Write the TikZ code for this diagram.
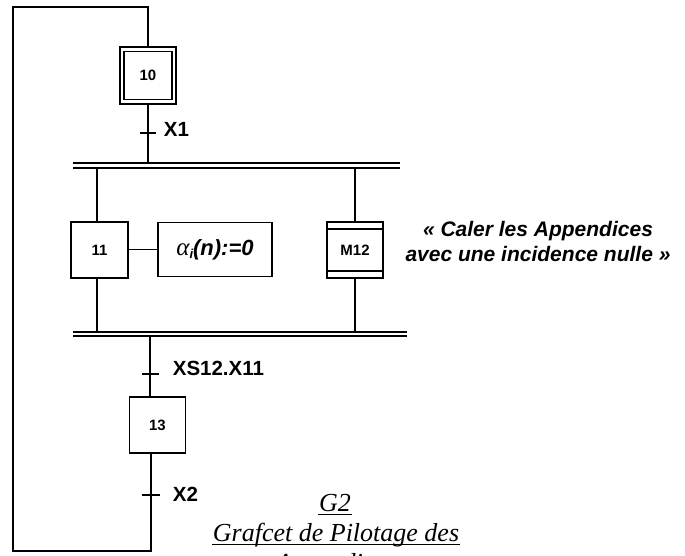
\documentclass[tikz,border=0pt]{standalone}
\usepackage{fontspec}
\setmainfont{Liberation Sans}
\newfontfamily\serifit{Liberation Serif}
\begin{document}
\begin{tikzpicture}[x=1pt,y=-1pt,line width=1.7pt,
  box/.style={draw,rectangle,inner sep=0pt,font=\fontsize{15}{17}\selectfont\bfseries},
  trans/.style={font=\fontsize{20.5}{23}\selectfont\bfseries,anchor=west,inner sep=0pt},
  tick/.style={line width=1.3pt},
  bar/.style={line width=1.6pt},
  title/.style={font=\serifit\itshape\fontsize{26}{30}\selectfont,anchor=base,inner sep=0pt},
  uline/.style={line width=1pt}]
\useasboundingbox (0,0) rectangle (685,556);
% steps
\node[box,minimum width=56,minimum height=57] (s10) at (148,75.5) {};
\node[box,minimum width=48,minimum height=48] (s10i) at (s10.center) {10};
\node[box,minimum width=57,minimum height=56] (s11) at (99.5,250) {11};
\node[box,minimum width=114,minimum height=54,font=\fontsize{22}{24}\selectfont] (act) at (215,249.5)
  {{\serifit\itshape\fontsize{25}{25}\selectfont α}{\fontsize{13}{13}\selectfont\bfseries\itshape\raisebox{-3pt}{i}}\textbf{\textit{(n):=0}}};
\node[box,minimum width=56,minimum height=56] (m12) at (355,250) {M12};
\draw ([yshift=-8pt]m12.north west) -- ([yshift=-8pt]m12.north east);
\draw ([yshift=8pt]m12.south west) -- ([yshift=8pt]m12.south east);
\node[box,minimum width=56,minimum height=56] (s13) at (157.5,425) {13};
% loop
\coordinate (tl) at (13,7);
\coordinate (bl) at (13,551);
\coordinate (br) at (151,551);
\draw (s10.north) |- (tl) -- (bl) -- (br) -- (br |- s13.south);
% bars
\coordinate (b1a) at (73,163); \coordinate (b1b) at (400,163);
\coordinate (b1c) at (73,168); \coordinate (b1d) at (400,168);
\coordinate (b2a) at (73,332); \coordinate (b2b) at (407,332);
\coordinate (b2c) at (73,336); \coordinate (b2d) at (407,336);
\draw[bar] (b1a) -- (b1b); \draw[bar] (b1c) -- (b1d);
\draw[bar] (b2a) -- (b2b); \draw[bar] (b2c) -- (b2d);
% links
\draw (s10.south) -- (s10.south |- b1a);
\coordinate (c11t) at (97,168); \coordinate (c11b) at (97,332);
\draw (c11t) -- (c11t |- s11.north);
\draw (c11b |- s11.south) -- (c11b);
\coordinate (c12t) at (355,168); \coordinate (c12b) at (355,332);
\draw (c12t) -- (m12.north);
\draw (m12.south) -- (c12b);
\draw (s11.east |- act.west) -- (act.west);
\coordinate (c13t) at (150,336);
\draw (c13t) -- (c13t |- s13.north);
% transitions
\coordinate (t1) at (148,133);
\draw[tick] ([xshift=-8pt]t1) -- ([xshift=8pt]t1);
\node[trans] (l1) at (163,129) {X1};
\coordinate (t2) at (150,374);
\draw[tick] ([xshift=-8.5pt]t2) -- ([xshift=9pt]t2);
\node[trans] (l2) at (172,368) {XS12.X11};
\coordinate (t3) at (151,495);
\draw[tick] ([xshift=-9pt]t3) -- ([xshift=9pt]t3);
\node[trans] (l3) at (172,494) {X2};
% comment
\node[align=center,font=\fontsize{21}{25}\selectfont\bfseries\itshape] (q) at (538,241)
  {« Caler les Appendices\\avec une incidence nulle »};
% title
\node[title] (g2) at (335,511) {G2};
\draw[uline] ([yshift=-3pt]g2.base west) -- ([yshift=-3pt]g2.base east);
\node[title] (g2b) at (336,541) {Grafcet de Pilotage des};
\draw[uline] ([yshift=-3pt]g2b.base west) -- ([yshift=-3pt]g2b.base east);
\begin{scope}
\clip (0,0) rectangle (685,556);
\node[title] (g2c) at (336,571) {Appendices};
\end{scope}
\end{tikzpicture}
\end{document}
